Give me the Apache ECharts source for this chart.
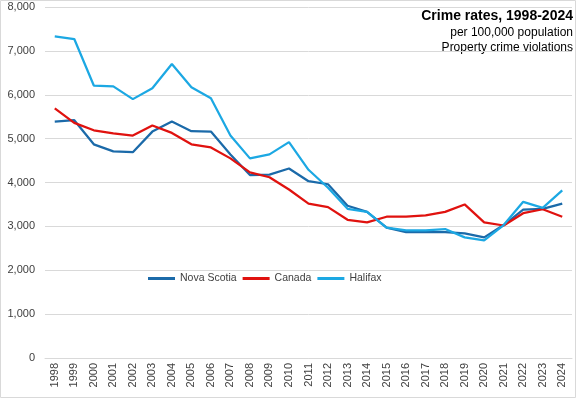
<!DOCTYPE html>
<html>
<head>
<meta charset="utf-8">
<script src="https://cdn.jsdelivr.net/npm/echarts@6/dist/echarts.min.js"></script>
<style>
  html, body { margin: 0; padding: 0; background: #fff; }
  #chart { width: 576px; height: 398px; }
</style>
</head>
<body>
<div id="chart"></div>
<script>
const years = ['1998', '1999', '2000', '2001', '2002', '2003', '2004', '2005', '2006', '2007',
  '2008', '2009', '2010', '2011', '2012', '2013', '2014', '2015', '2016', '2017',
  '2018', '2019', '2020', '2021', '2022', '2023', '2024'];

const novaScotia = [5390, 5420, 4870, 4710, 4690, 5160, 5390, 5170, 5160, 4640,
  4170, 4180, 4320, 4030, 3960, 3470, 3330, 2970, 2870, 2870,
  2870, 2840, 2750, 3030, 3380, 3400, 3520];
const canada = [5690, 5360, 5190, 5120, 5070, 5300, 5130, 4870, 4800, 4550,
  4230, 4120, 3840, 3520, 3440, 3150, 3090, 3220, 3220, 3250,
  3330, 3500, 3090, 3020, 3300, 3390, 3220];
const halifax = [7330, 7270, 6210, 6190, 5900, 6150, 6700, 6170, 5920, 5070,
  4550, 4640, 4920, 4290, 3880, 3400, 3330, 2970, 2910, 2910,
  2940, 2750, 2680, 3030, 3560, 3420, 3820];

const chart = echarts.init(document.getElementById('chart'));

const lineSeries = (name, data, color) => ({
  name,
  type: 'line',
  data,
  symbol: 'none',
  lineStyle: { width: 2.25, color },
  itemStyle: { color },
  emphasis: { disabled: true }
});

const titleText = (text, y, size, weight) => ({
  type: 'text',
  right: 3,
  top: y,
  silent: true,
  style: {
    text,
    fill: '#000',
    font: weight + ' ' + size + 'px "Liberation Sans", Arial, sans-serif',
    textAlign: 'right'
  }
});

const option = {
  animation: false,
  textStyle: { fontFamily: 'Liberation Sans, Arial, sans-serif' },
  legend: {
    left: 143,
    top: 268,
    itemWidth: 27,
    itemHeight: 3,
    itemGap: 6,
    icon: 'rect',
    textStyle: { fontSize: 10.5, color: '#404040' },
    data: ['Nova Scotia', 'Canada', 'Halifax']
  },
  grid: { left: 45, right: 4, top: 7, bottom: 40 },
  xAxis: {
    type: 'category',
    data: years,
    boundaryGap: true,
    axisLine: { lineStyle: { color: '#d9d9d9', width: 1 } },
    axisTick: { show: false },
    axisLabel: { rotate: 90, fontSize: 11, color: '#404040', margin: 5 }
  },
  yAxis: {
    type: 'value',
    min: 0,
    max: 8000,
    interval: 1000,
    axisLabel: {
      fontSize: 11,
      color: '#404040',
      margin: 10,
      formatter: v => v.toLocaleString('en-US')
    },
    splitLine: { lineStyle: { color: '#d9d9d9', width: 1 } }
  },
  graphic: [
    {
      type: 'rect',
      shape: { x: 0.5, y: 0.5, width: 575, height: 397 },
      style: { fill: 'none', stroke: '#d9d9d9', lineWidth: 1 },
      silent: true
    },
    titleText('Crime rates, 1998-2024', 9, 14, 'bold'),
    titleText('per 100,000 population', 27, 12, 'normal'),
    titleText('Property crime violations', 42, 12, 'normal')
  ],
  series: [
    lineSeries('Nova Scotia', novaScotia, '#1b6aa9'),
    lineSeries('Canada', canada, '#e0120f'),
    lineSeries('Halifax', halifax, '#1ca8e3')
  ]
};

chart.setOption(option);
</script>
</body>
</html>
